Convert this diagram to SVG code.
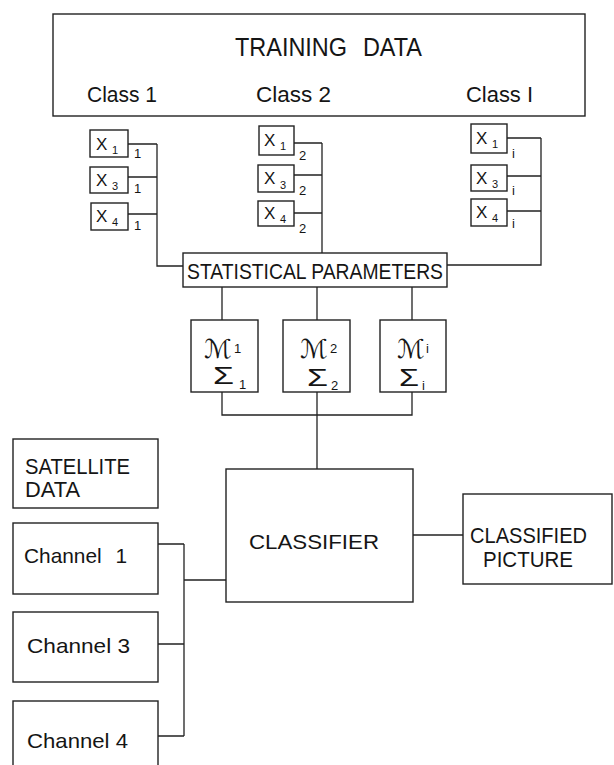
<svg xmlns="http://www.w3.org/2000/svg" width="614" height="765" viewBox="0 0 614 765">
<style>
.box{fill:none;stroke:#222;stroke-width:1.4}
.ln{fill:none;stroke:#222;stroke-width:1.3}
text{font-family:"Liberation Sans","DejaVu Sans",sans-serif;fill:#151515}
.big{font-size:22px}
.xs{font-size:17px}
.sub{font-size:11px}
.idx{font-size:13px}
.m{font-family:"DejaVu Serif","DejaVu Sans",serif;font-size:26px;font-style:italic}
.sg{font-size:23px}
</style>
<rect width="614" height="765" fill="#fff"/>

<g id="training-data">
<rect class="box" x="53" y="14" width="532" height="102"/>
<text x="235" y="56" font-size="25" textLength="187" lengthAdjust="spacingAndGlyphs" word-spacing="10">TRAINING DATA</text>
<text class="big" x="87" y="102" textLength="70" lengthAdjust="spacingAndGlyphs">Class 1</text>
<text class="big" x="256" y="102" textLength="75" lengthAdjust="spacingAndGlyphs">Class 2</text>
<text class="big" x="466" y="102" textLength="67" lengthAdjust="spacingAndGlyphs">Class I</text>
</g>

<g id="c1x1"><rect class="box" x="90" y="130" width="38" height="27"/><text class="xs" x="96" y="150">X</text><text class="sub" x="112" y="154">1</text></g>
<g id="c1x3"><rect class="box" x="90" y="167" width="38" height="26"/><text class="xs" x="96" y="186">X</text><text class="sub" x="112" y="190">3</text></g>
<g id="c1x4"><rect class="box" x="91" y="203" width="37" height="27"/><text class="xs" x="96" y="222">X</text><text class="sub" x="112" y="226">4</text></g>

<g id="c2x1"><rect class="box" x="259" y="126" width="35" height="29"/><text class="xs" x="264" y="146">X</text><text class="sub" x="280" y="150">1</text></g>
<g id="c2x3"><rect class="box" x="258" y="165" width="36" height="27"/><text class="xs" x="264" y="184">X</text><text class="sub" x="280" y="189">3</text></g>
<g id="c2x4"><rect class="box" x="258" y="201" width="36" height="25"/><text class="xs" x="264" y="219">X</text><text class="sub" x="280" y="223">4</text></g>

<g id="cix1"><rect class="box" x="471" y="124" width="36" height="29"/><text class="xs" x="476" y="144">X</text><text class="sub" x="492" y="148">1</text></g>
<g id="cix3"><rect class="box" x="471" y="165" width="36" height="26"/><text class="xs" x="476" y="184">X</text><text class="sub" x="492" y="188">3</text></g>
<g id="cix4"><rect class="box" x="471" y="199" width="36" height="27"/><text class="xs" x="476" y="218">X</text><text class="sub" x="492" y="222">4</text></g>

<g id="subscripts">
<text class="idx" x="134" y="158">1</text>
<text class="idx" x="134" y="193">1</text>
<text class="idx" x="134" y="230">1</text>
<text class="idx" x="299" y="160">2</text>
<text class="idx" x="299" y="195">2</text>
<text class="idx" x="299" y="233">2</text>
<text class="idx" x="512" y="158">i</text>
<text class="idx" x="512" y="195">i</text>
<text class="idx" x="512" y="228">i</text>
</g>

<g id="statistical-parameters">
<rect class="box" x="183" y="253" width="264" height="34"/>
<text x="187" y="279" font-size="22" textLength="256" lengthAdjust="spacingAndGlyphs">STATISTICAL PARAMETERS</text>
</g>

<g id="param1">
<rect class="box" x="191" y="320" width="67" height="72"/>
<text class="m" x="204" y="358">ℳ</text><text class="idx" x="234" y="353">1</text>
<text class="sg" x="213" y="384" textLength="21" lengthAdjust="spacingAndGlyphs">Σ</text><text class="idx" x="239" y="389">1</text>
</g>
<g id="param2">
<rect class="box" x="283" y="320" width="67" height="72"/>
<text class="m" x="300" y="358">ℳ</text><text class="idx" x="330" y="353">2</text>
<text class="sg" x="307" y="386" textLength="21" lengthAdjust="spacingAndGlyphs">Σ</text><text class="idx" x="331" y="390">2</text>
</g>
<g id="param3">
<rect class="box" x="380" y="320" width="66" height="72"/>
<text class="m" x="397" y="358">ℳ</text><text class="idx" x="426" y="353">i</text>
<text class="sg" x="399" y="386" textLength="20" lengthAdjust="spacingAndGlyphs">Σ</text><text class="idx" x="422" y="390">i</text>
</g>

<g id="satellite-data">
<rect class="box" x="13" y="439" width="145" height="69"/>
<text class="big" x="25" y="474" textLength="105" lengthAdjust="spacingAndGlyphs">SATELLITE</text>
<text class="big" x="25" y="497" textLength="55" lengthAdjust="spacingAndGlyphs">DATA</text>
</g>
<g id="channel1">
<rect class="box" x="13" y="523" width="145" height="71"/>
<text x="24" y="563" font-size="21" textLength="103" lengthAdjust="spacingAndGlyphs" word-spacing="8">Channel 1</text>
</g>
<g id="channel3">
<rect class="box" x="13" y="612" width="145" height="70"/>
<text x="27" y="653" font-size="21" textLength="103" lengthAdjust="spacingAndGlyphs">Channel 3</text>
</g>
<g id="channel4">
<rect class="box" x="13" y="701" width="145" height="75"/>
<text x="27" y="748" font-size="21" textLength="101" lengthAdjust="spacingAndGlyphs">Channel 4</text>
</g>

<g id="classifier">
<rect class="box" x="226" y="469" width="187" height="133"/>
<text x="249" y="549" font-size="21" textLength="130" lengthAdjust="spacingAndGlyphs">CLASSIFIER</text>
</g>
<g id="classified-picture">
<rect class="box" x="463" y="494" width="149" height="90"/>
<text x="470" y="543" font-size="22" textLength="117" lengthAdjust="spacingAndGlyphs">CLASSIFIED</text>
<text x="483" y="567" font-size="22" textLength="90" lengthAdjust="spacingAndGlyphs">PICTURE</text>
</g>

<g id="connectors">
<path class="ln" d="M128 144H157M128 177H157M128 214H157M157 144V266H183"/>
<path class="ln" d="M294 143H322M294 175H322M294 213H322M322 143V253"/>
<path class="ln" d="M507 138H541M507 176H541M507 211H541M541 138V265H447"/>
<path class="ln" d="M222 287V320M317 287V320M412 287V320"/>
<path class="ln" d="M222 392V415H412V392M317 392V469"/>
<path class="ln" d="M413 535H463"/>
<path class="ln" d="M158 544H184M158 644H184M158 736H184M184 544V736M184 580H226"/>
</g>
</svg>
